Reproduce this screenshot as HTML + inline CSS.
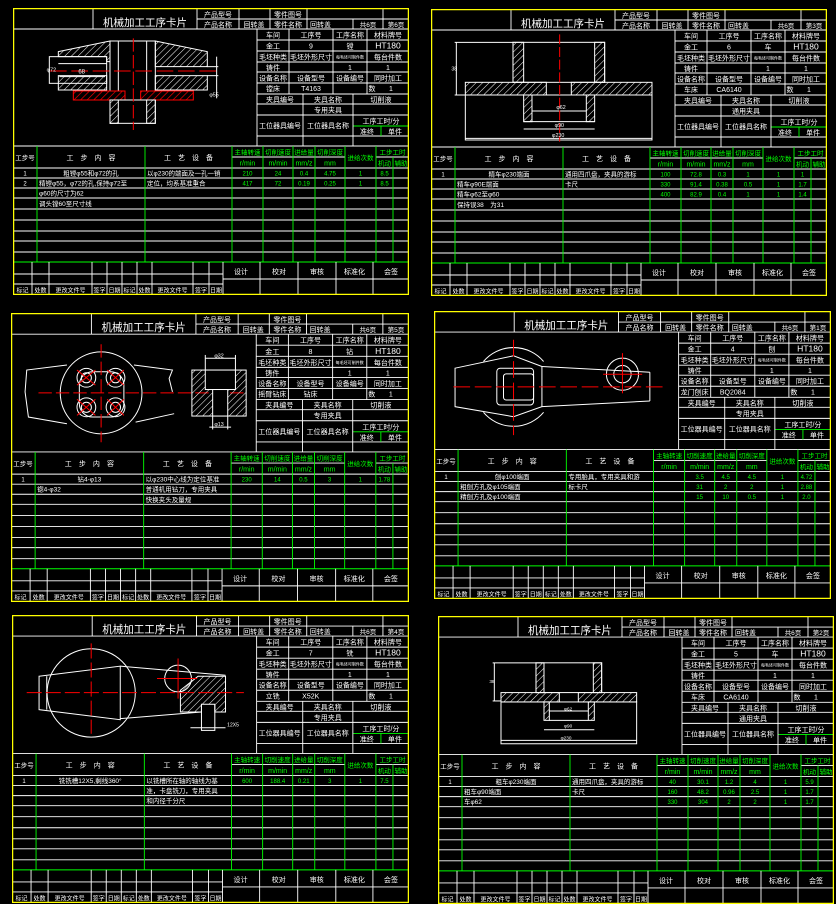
<!DOCTYPE html>
<html><head><meta charset="utf-8"><style>
html,body{margin:0;padding:0;background:#000;width:836px;height:902px;overflow:hidden}
svg{position:absolute;display:block}
text{font-family:"Liberation Sans","Noto Sans CJK SC",sans-serif}
</style></head><body>
<div id="root"></div>
<script>
var W='#fff',G='#00ff00',Y='#ffff00',R='#ff0000';
function T(x,y,s,sz,fill,anc){return '<text x="'+x+'" y="'+y+'" font-size="'+(sz||6)+'" fill="'+(fill||W)+'" text-anchor="'+(anc||'middle')+'">'+s+'</text>';}
function L(x1,y1,x2,y2,c,w){return '<line x1="'+x1+'" y1="'+y1+'" x2="'+x2+'" y2="'+y2+'" stroke="'+(c||W)+'" stroke-width="'+(w||0.9)+'"/>';}
var hs=' fill="url(#hw)" ', hr=' fill="url(#hr)" stroke="'+R+'" ';
var cards=[
{x:13,y:8,w:396,h:287,page:'第6页',no:'9',nm:'镗',en:'镗床',em:'T4163',fx:'专用夹具',tx:-3,ty:-3,
rows:[['1','粗镗φ55和φ72的孔','以φ230的端面及一孔一销',['210','24','0.4','4.75','1','8.5'],1],
['2','精镗φ55，φ72的孔,保持φ72至','定位，均系基准重合',['417','72','0.19','0.25','1','8.5']],
['','φ60的尺寸为62','',[]],['','调头镗60至尺寸线','',[]]],
d:'<polygon points="145,140 300,108 300,170 290,170 290,155 145,155"'+hs+'/>'+
'<rect x="118" y="155" width="172" height="80"/><rect x="145" y="212" width="145" height="43"'+hs+'/>'+
'<line x1="145" y1="176" x2="290" y2="176"/><line x1="300" y1="108" x2="300" y2="258"/><line x1="325" y1="108" x2="325" y2="258"/><line x1="410" y1="108" x2="410" y2="258"/><line x1="436" y1="108" x2="436" y2="258"/><line x1="300" y1="108" x2="436" y2="108"/>'+
'<polygon points="436,108 592,140 592,185 436,185"'+hs+'/><rect x="436" y="212" width="156" height="43"'+hs+'/>'+
'<line x1="592" y1="185" x2="625" y2="185"/><line x1="592" y1="212" x2="625" y2="212"/><line x1="620" y1="155" x2="620" y2="280"/>'+
'<rect x="190" y="258" width="155" height="27"'+hr+'/><rect x="392" y="258" width="158" height="27"'+hr+'/>'+
'<rect x="300" y="285" width="136" height="70"/><rect x="300" y="285" width="25" height="70"'+hs+'/><rect x="410" y="285" width="26" height="70"'+hs+'/>'+
'<line x1="370" y1="100" x2="370" y2="375" stroke="'+R+'" stroke-dasharray="40,10"/><line x1="120" y1="198" x2="620" y2="198" stroke="'+R+'" stroke-dasharray="50,14"/>'+
'<line x1="148" y1="215" x2="285" y2="215"/><text x="205" y="205" font-size="18" fill="#fff" stroke="none">68</text><text x="110" y="200" font-size="16" fill="#fff" stroke="none">φ72</text><text x="598" y="275" font-size="16" fill="#fff" stroke="none">φ55</text>'},
{x:431,y:9,w:396,h:287,page:'第3页',no:'6',nm:'车',en:'车床',em:'CA6140',fx:'通用夹具',tx:-3,ty:-4,
rows:[['1','精车φ230端面','通用四爪盘，夹具的游标',['100','72.8','0.3','1','1','1'],1],
['','精车φ90E端面','卡尺',['330','91.4','0.38','0.5','1','1.7']],
['','精车φ62至φ60','',['400','82.9','0.4','1','1','1.4']],['','保持误38　为31','',[]]],
d:'<rect x="255" y="112" width="275" height="120"/><rect x="255" y="112" width="32" height="120"'+hs+'/><rect x="500" y="112" width="30" height="120"'+hs+'/>'+
'<rect x="112" y="232" width="243" height="38"'+hs+'/><rect x="430" y="232" width="242" height="38"'+hs+'/>'+
'<rect x="112" y="270" width="560" height="135"/><rect x="287" y="270" width="25" height="80"'+hs+'/><rect x="475" y="270" width="25" height="80"'+hs+'/><line x1="312" y1="318" x2="475" y2="318"/><line x1="287" y1="350" x2="500" y2="350"/>'+
'<line x1="287" y1="372" x2="500" y2="372"/><line x1="112" y1="400" x2="672" y2="400"/><line x1="85" y1="112" x2="85" y2="270"/><line x1="80" y1="112" x2="255" y2="112"/><line x1="80" y1="270" x2="112" y2="270"/>'+
'<line x1="395" y1="88" x2="395" y2="410" stroke="'+R+'" stroke-dasharray="30,8"/>'+
'<text x="385" y="312" font-size="16" fill="#fff" stroke="none">φ62</text><text x="380" y="366" font-size="16" fill="#fff" stroke="none">φ90</text><text x="372" y="396" font-size="16" fill="#fff" stroke="none">φ230</text><text x="70" y="196" font-size="16" fill="#fff" stroke="none">38</text>'},
{x:11,y:313,w:398,h:289,page:'第5页',no:'8',nm:'钻',en:'摇臂钻床',em:'钻床',fx:'专用夹具',tx:-6,ty:-5,
rows:[['1','钻4-φ13','以φ230中心线为定位基准',['230','14','0.5','3','1','1.78'],1],
['','锪4-φ32','普通机用钻刀，专用夹具',[]],['','','快换夹头及量规',[]],['','','',[]]],
d:'<circle cx="287" cy="253" r="122"/><polyline points="185,170 65,185 60,250 70,325 185,345"/><polyline points="385,170 500,185 490,210 500,250"/><polyline points="390,340 505,315"/>'+
'<rect x="222" y="190" width="133" height="135" rx="40"/>'+
'<circle cx="243" cy="208" r="15"/><circle cx="243" cy="208" r="28"/><circle cx="330" cy="208" r="15"/><circle cx="330" cy="208" r="28"/><circle cx="243" cy="296" r="15"/><circle cx="243" cy="296" r="28"/><circle cx="330" cy="296" r="15"/><circle cx="330" cy="296" r="28"/>'+
'<line x1="100" y1="253" x2="720" y2="253" stroke="'+R+'" stroke-dasharray="40,12"/><line x1="287" y1="108" x2="287" y2="400" stroke="'+R+'" stroke-dasharray="40,12"/>'+
'<line x1="215" y1="185" x2="270" y2="230" stroke="'+R+'"/><line x1="270" y1="185" x2="215" y2="230" stroke="'+R+'"/><line x1="305" y1="185" x2="355" y2="230" stroke="'+R+'"/><line x1="355" y1="185" x2="305" y2="230" stroke="'+R+'"/><line x1="215" y1="272" x2="270" y2="320" stroke="'+R+'"/><line x1="270" y1="272" x2="215" y2="320" stroke="'+R+'"/><line x1="305" y1="272" x2="355" y2="320" stroke="'+R+'"/><line x1="355" y1="272" x2="305" y2="320" stroke="'+R+'"/>'+
'<rect x="558" y="185" width="162" height="137"'+hs+'/><rect x="598" y="185" width="90" height="58" fill="#000"/><rect x="620" y="243" width="45" height="79" fill="#000"/>'+
'<line x1="598" y1="150" x2="688" y2="150"/><line x1="598" y1="140" x2="598" y2="185"/><line x1="688" y1="140" x2="688" y2="185"/><line x1="620" y1="322" x2="620" y2="362"/><line x1="665" y1="322" x2="665" y2="362"/><line x1="610" y1="355" x2="675" y2="355"/>'+
'<text x="625" y="147" font-size="16" fill="#fff" stroke="none">φ32</text><text x="625" y="352" font-size="16" fill="#fff" stroke="none">φ13</text>'},
{x:434,y:311,w:397,h:288,page:'第1页',no:'4',nm:'刨',en:'龙门刨床',em:'BQ2084',fx:'专用夹具',tx:-4,ty:-3,
rows:[['1','刨φ100端面','专用胎具，专用夹具和游',['','3.5','4.5','4.5','1','4.72'],1],
['','粗刨方孔及φ105端面','标卡尺',['','31','2','2','1','2.88']],
['','精刨方孔及φ100端面','',['','15','10','0.5','1','2.0']],['','','',[]]],
d:'<path d="M160,160 A118,118 0 0 1 340,160"/><path d="M160,312 A118,118 0 0 0 340,312"/>'+
'<polygon points="75,180 250,143 335,175 335,295 250,325 75,295"/><rect x="200" y="180" width="110" height="110" rx="10"/><rect x="220" y="197" width="90" height="78" rx="8"/>'+
'<line x1="335" y1="175" x2="658" y2="192"/><line x1="335" y1="295" x2="658" y2="278"/><line x1="658" y1="192" x2="658" y2="278"/>'+
'<circle cx="576" cy="198" r="48"/><circle cx="576" cy="198" r="26"/>'+
'<line x1="70" y1="236" x2="705" y2="236" stroke="'+R+'" stroke-dasharray="50,14"/><line x1="250" y1="95" x2="250" y2="380" stroke="'+R+'" stroke-dasharray="50,14"/><line x1="576" y1="135" x2="576" y2="255" stroke="'+R+'"/><line x1="518" y1="198" x2="635" y2="198" stroke="'+R+'"/>'},
{x:12,y:615,w:397,h:288,page:'第4页',no:'7',nm:'铣',en:'立铣',em:'X52K',fx:'专用夹具',tx:-7,ty:-5,
rows:[['1','铣铣槽12X5,剩线360°','以铣槽所在轴的轴线为基',['600','188.4','0.21','3','1','7.5'],1],
['','','准，卡盘铣刀，专用夹具',[]],['','','和内径千分尺',[]],['','','',[]]],
d:'<circle cx="258" cy="248" r="132"/><polygon points="102,198 345,168 345,328 102,298"/><line x1="125" y1="198" x2="125" y2="298"/>'+
'<line x1="345" y1="168" x2="660" y2="195"/><line x1="345" y1="325" x2="588" y2="305"/><circle cx="518" cy="205" r="40"/>'+
'<polygon points="525,240 578,198 660,198 660,305 628,305 628,282 588,282 588,305 525,305"'+hs+'/><polyline points="588,282 588,360 628,360 628,282"/>'+
'<line x1="555" y1="352" x2="660" y2="352"/><text x="665" y="348" font-size="15" fill="#fff" stroke="none">12X5</text>'+
'<line x1="65" y1="247" x2="715" y2="247" stroke="'+R+'" stroke-dasharray="45,12"/><line x1="258" y1="100" x2="258" y2="370" stroke="'+R+'" stroke-dasharray="45,12"/><line x1="518" y1="145" x2="518" y2="265" stroke="'+R+'"/><line x1="455" y1="205" x2="575" y2="205" stroke="'+R+'"/>'},
{x:438,y:616,w:396,h:288,page:'第2页',no:'5',nm:'车',en:'车床',em:'CA6140',fx:'通用夹具',tx:-8,ty:-6,
rows:[['1','粗车φ230端面','通用四爪盘，夹具的游标',['40','30.1','1.2','4','1','5.9'],1],
['','粗车φ90端面','卡尺',['160','48.2','0.96','2.5','1','1.7']],
['','车φ62','',['330','304','2','2','1','1.7']],['','','',[]]],
d:'<rect x="318" y="158" width="197" height="89"/><rect x="318" y="158" width="24" height="89"'+hs+'/><rect x="490" y="158" width="25" height="89"'+hs+'/>'+
'<rect x="213" y="247" width="175" height="28"'+hs+'/><rect x="445" y="247" width="175" height="28"'+hs+'/>'+
'<rect x="213" y="275" width="407" height="125"/><rect x="342" y="275" width="16" height="55"'+hs+'/><rect x="475" y="275" width="18" height="55"'+hs+'/><line x1="358" y1="302" x2="475" y2="302"/><line x1="358" y1="330" x2="475" y2="330"/>'+
'<line x1="342" y1="358" x2="493" y2="358"/><line x1="213" y1="390" x2="620" y2="390"/><line x1="193" y1="158" x2="193" y2="272"/><line x1="188" y1="158" x2="318" y2="158"/><line x1="188" y1="272" x2="213" y2="272"/>'+
'<text x="402" y="300" font-size="14" fill="#fff" stroke="none">φ62</text><text x="402" y="352" font-size="14" fill="#fff" stroke="none">φ90</text><text x="392" y="387" font-size="14" fill="#fff" stroke="none">φ230</text><text x="178" y="218" font-size="14" fill="#fff" stroke="none">38</text>'}
];
function card(c,i){
var s='<svg style="left:'+c.x+'px;top:'+c.y+'px" width="'+c.w+'" height="'+c.h+'" viewBox="0 0 396 287" preserveAspectRatio="none">';
s+='<defs><pattern id="hw" patternUnits="userSpaceOnUse" width="14" height="14" patternTransform="rotate(45)"><line x1="0" y1="0" x2="0" y2="14" stroke="#fff" stroke-width="3"/></pattern><pattern id="hr" patternUnits="userSpaceOnUse" width="14" height="14" patternTransform="rotate(45)"><line x1="0" y1="0" x2="0" y2="14" stroke="#f00" stroke-width="4"/></pattern></defs>';
s+='<rect width="396" height="287" fill="#000"/>';
s+='<g transform="translate('+c.tx+','+c.ty+') scale(0.3333)" stroke="#fff" stroke-width="3" fill="none">'+c.d+'</g>';
s+=L(0,21,396,21)+L(184,11,396,11)+L(80,0,80,21);
[184,226,257,294,370].forEach(function(x){s+=L(x,0,x,21)});s+=L(340,11,340,21);
s+=T(132,18,'机械加工工序卡片',10.5);
s+=T(205,9,'产品型号',7)+T(275,9,'零件图号',7)+T(205,19,'产品名称',7)+T(241,19,'回转盖',7)+T(275,19,'零件名称',7)+T(297,19,'回转盖',7,W,'start')+T(355,19,'共6页',6.5)+T(383,19,c.page,6.5);
s+=L(244,21,244,138);
[32,43,54,64,75,86,96,107,128].forEach(function(y){s+=L(244,y,396,y)});
s+=L(340,118,396,118,G);
[276,320,354].forEach(function(x){s+=L(x,21,x,86)});
[290,340].forEach(function(x){s+=L(x,86,x,138)});s+=L(368,118,368,128,G);
var cx=[260,298,337,375];
var info=[['车间','工序号','工序名称','材料牌号'],['金工',c.no,c.nm,'HT180'],['毛坯种类','毛坯外形尺寸','',''],['铸件','','1','1'],['设备名称','设备型号','设备编号','同时加工'],[c.en,c.em,'','']];
var ry=[29.5,40.5,51.5,62,72.5,83];
info.forEach(function(r,k){r.forEach(function(t,j){if(t)s+=T(cx[j],ry[k],t,(k==1&&j==3)?8.5:7)})});
s+=T(337,50.5,'每毛坯可制件数',4)+T(375,51.5,'每台件数',7)+T(359,83,'数',7)+T(378,83,'1',7);
s+=T(267,94,'夹具编号',7)+T(315,94,'夹具名称',7)+T(368,94,'切削液',7)+T(315,104.5,c.fx,7);
s+=T(267,120,'工位器具编号',7)+T(315,120,'工位器具名称',7)+T(368,115.5,'工序工时/分',7)+T(354,126,'准终',7)+T(382,126,'单件',7);
s+=L(0,138,396,138)+L(219,149,332,149)+L(363,149,396,149);
[160,170,180,190,201,212,223,233,244].forEach(function(y){s+=L(0,y,396,y)});
s+=L(0,254,396,254,G,1);
[24,132,219,250,280,302,332,363].forEach(function(x){s+=L(x,138,x,254,G)});s+=L(380,149,380,254,G);
s+=T(12,152,'工步号',6.5)+T(78,152,'工　步　内　容',7)+T(175.5,152,'工　艺　设　备',7);
var hx=[234.5,265,291,317];
[['主轴转速','r/min'],['切削速度','m/min'],['进给量','mm/z'],['切削深度','mm']].forEach(function(h,k){s+=T(hx[k],146.5,h[0],6.5,G)+T(hx[k],157.5,h[1],7,G)});
s+=T(347.5,152,'进给次数',6.5,G)+T(379.5,146.5,'工步工时',6.5,G)+T(371.5,157.5,'机动',6.5,G)+T(388,157.5,'辅助',6.5,G);
var rc=[167.5,177.5,187.5,198];var nx=[234.5,265,291,317,347.5,371.5];
c.rows.forEach(function(r,k){
 if(r[0])s+=T(12,rc[k],r[0],6);
 if(r[1])s+= r[4]?T(78,rc[k],r[1],6.5):T(26,rc[k],r[1],6.5,W,'start');
 if(r[2])s+=T(134,rc[k],r[2],6.5,W,'start');
 r[3].forEach(function(v,j){if(v)s+=T(nx[j],rc[k],v,6,G)});
});
s+=L(0,266,210,266)+L(0,276,210,276)+L(210,271,396,271);
[19,36,79,94,109,124,139,180,196,210,247,285,323,360].forEach(function(x){s+=L(x,254,x,287)});
[['标记',9.5],['处数',27.5],['更改文件号',57.5],['签字',86.5],['日期',101.5],['标记',116.5],['处数',131.5],['更改文件号',159.5],['签字',188],['日期',203]].forEach(function(a){s+=T(a[1],284.5,a[0],6)});
[['设计',228],['校对',266],['审核',304],['标准化',341.5],['会签',378]].forEach(function(a){s+=T(a[1],266,a[0],7)});
s+='<rect x="0.6" y="0.6" width="394.8" height="285.8" fill="none" stroke="'+Y+'" stroke-width="1.3"/>';
s+='</svg>';return s;}
var h='';cards.forEach(function(c,i){h+=card(c,i)});
document.getElementById('root').innerHTML=h;
</script>
</body></html>
